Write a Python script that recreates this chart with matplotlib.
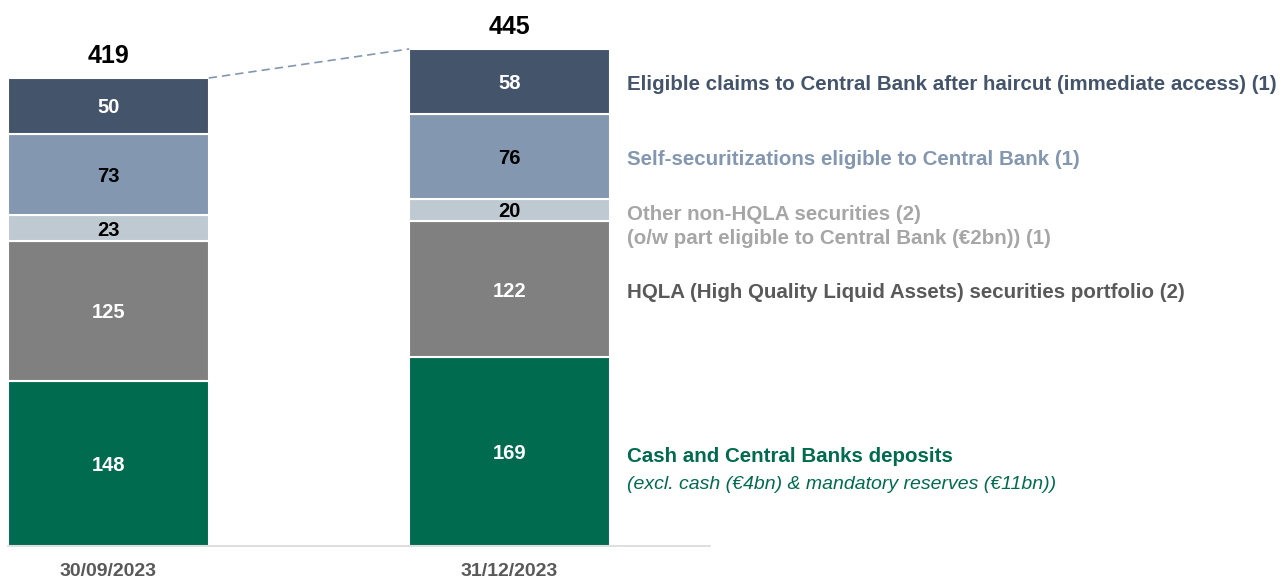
import matplotlib
matplotlib.use("Agg")
import matplotlib.pyplot as plt
import numpy as np

plt.rcParams['font.family'] = ['Liberation Sans', 'DejaVu Sans']

# Data (EUR bn)
dates = ['30/09/2023', '31/12/2023']
cash = [148, 169]
hqla = [125, 122]
other = [23, 20]
self_sec = [73, 76]
eligible = [50, 58]
totals = [419, 445]

series = [cash, hqla, other, self_sec, eligible]
colors = ['#006B4F', '#808080', '#BFC9D2', '#8497B0', '#44546A']
num_colors = ['white', 'white', 'black', 'black', 'white']

labels = [
    ('Cash and Central Banks deposits', '(excl. cash (€4bn) & mandatory reserves (€11bn))', '#006B4F'),
    ('HQLA (High Quality Liquid Assets) securities portfolio (2)', None, '#595959'),
    ('Other non-HQLA securities (2)', '(o/w part eligible to Central Bank (€2bn)) (1)', '#A6A6A6'),
    ('Self-securitizations eligible to Central Bank (1)', None, '#8497B0'),
    ('Eligible claims to Central Bank after haircut (immediate access) (1)', None, '#44546A'),
]

W, H = 1288, 578
fig = plt.figure(figsize=(W / 100, H / 100), dpi=100)
ax = fig.add_axes([8 / W, (H - 546) / H, (710 - 8) / W, 546 / H])

x = np.arange(len(dates))
width = 0.5
bottom = np.zeros(len(dates))
for vals, col, ncol in zip(series, colors, num_colors):
    ax.bar(x, vals, width, bottom=bottom, color=col, edgecolor='white', linewidth=1.5)
    for xi, b, v in zip(x, bottom, vals):
        ax.text(xi, b + v / 2, str(v), ha='center', va='center_baseline', color=ncol,
                fontsize=14.5, fontweight='bold')
    bottom += np.array(vals)

for xi, t in zip(x, totals):
    ax.text(xi, t + 9, str(t), ha='center', va='bottom', fontsize=18, fontweight='bold')

# dashed connector between the two totals
ax.plot([x[0] + width / 2, x[1] - width / 2], totals, color='#8497B0',
        linestyle=(0, (5, 3)), linewidth=1.2)

# category labels right of the second bar
lx = 1.293
fs = 14.8
bottom2 = 0
for (main, sub, col), vals in zip(labels, series):
    yc = bottom2 + vals[1] / 2
    if sub is None:
        ax.text(lx, yc - 1, main, ha='left', va='center_baseline', color=col, fontsize=fs,
                fontweight='bold', clip_on=False)
    elif main.startswith('Cash'):
        ax.text(lx, yc - 3, main, ha='left', va='center_baseline', color=col, fontsize=fs,
                fontweight='bold', clip_on=False)
        ax.text(lx, yc - 28, sub, ha='left', va='center_baseline', color=col, fontsize=14,
                style='italic', clip_on=False)
    else:
        ax.text(lx, yc - 2, main, ha='left', va='center_baseline', color=col, fontsize=fs,
                fontweight='bold', clip_on=False)
        ax.text(lx, yc - 24, sub, ha='left', va='center_baseline', color=col, fontsize=fs,
                fontweight='bold', clip_on=False)
    bottom2 += vals[1]

ax.set_xlim(-100.5 / 401, (702 - 100.5) / 401)
ax.set_ylim(0, 546 / 1.1169)
ax.set_xticks(x)
ax.set_xticklabels(dates, fontsize=14, fontweight='bold', color='#595959')
ax.tick_params(axis='x', length=0, pad=12.5)
ax.set_yticks([])
for s in ['top', 'right', 'left']:
    ax.spines[s].set_visible(False)
ax.spines['bottom'].set_color('#D9D9D9')
ax.spines['bottom'].set_linewidth(1.2)

fig.savefig('out.png', dpi=100)
